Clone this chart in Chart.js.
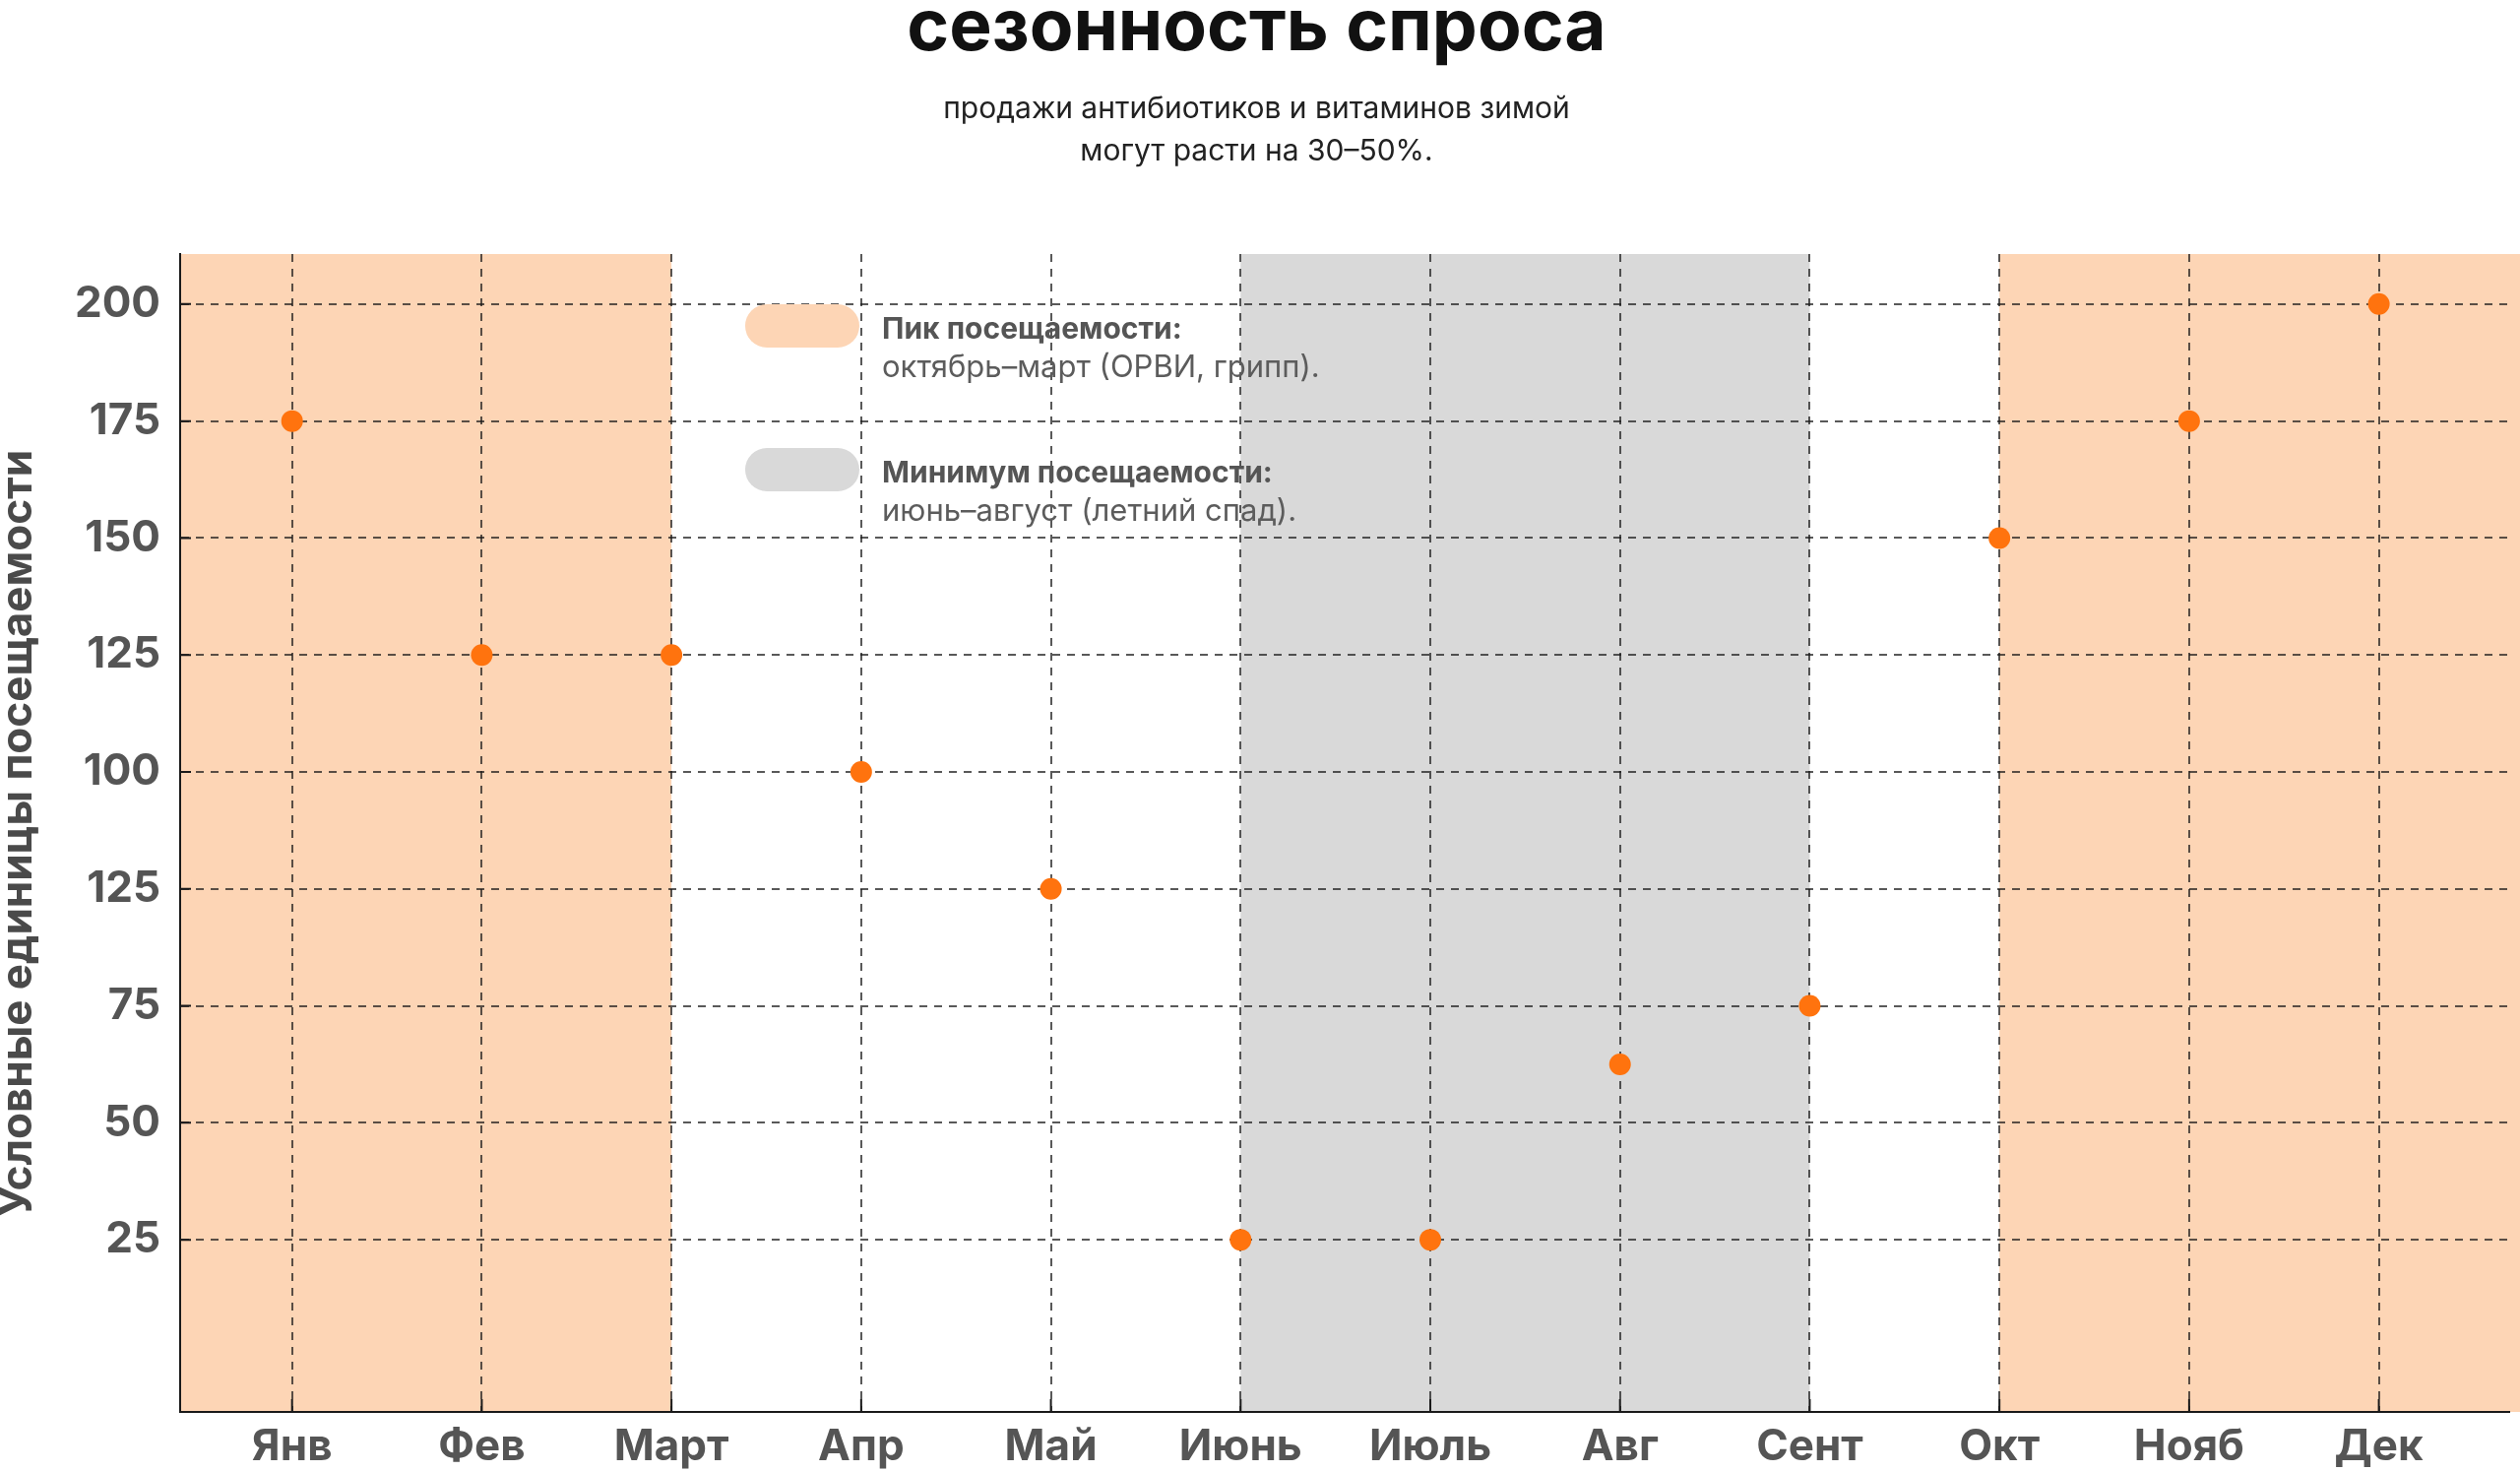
<!DOCTYPE html>
<html lang="ru">
<head>
  <meta charset="UTF-8">
  <meta name="viewport" content="width=device-width, initial-scale=1.0">
  <title>Сезонность спроса</title>
  <script src="https://cdn.jsdelivr.net/npm/chart.js"></script>
  <style>
    html, body {
      margin: 0;
      padding: 0;
      background: #fff;
    }

    .chart-container {
      position: relative;
      width: 2560px;
      height: 1495px;
    }
  </style>
</head>
<body>
  <div class="chart-container">
    <canvas id="seasonChart"></canvas>
  </div>
  <script>
    // Months on the x axis
    const MONTHS = ['Янв', 'Фев', 'Март', 'Апр', 'Май', 'Июнь', 'Июль', 'Авг', 'Сент', 'Окт', 'Нояб', 'Дек'];

    // Visits per month, in axis units (gridline 0..200 step 25)
    const VISITS = [175, 125, 125, 100, 75, 0, 0, 37.5, 50, 150, 175, 200];

    // Gridline values and the labels printed next to them (the lower ones are printed as in the source)
    const Y_TICKS = [0, 25, 50, 75, 100, 125, 150, 175, 200];
    const Y_TICK_LABELS = ['25', '50', '75', '125', '100', '125', '150', '175', '200'];

    // Shaded seasons, as ranges of month index
    const PEAK_RANGES = [[-1, 2], [9, 12]];
    const LOW_RANGES = [[5, 8]];

    const TITLE = 'сезонность спроса';
    const SUBTITLE = ['продажи антибиотиков и витаминов зимой', 'могут расти на 30–50%.'];
    const Y_TITLE = 'Условные единицы посещаемости';

    const LEGEND_TITLES = ['Пик посещаемости:', 'Минимум посещаемости:'];
    const LEGEND_TEXTS = ['октябрь–март (ОРВИ, грипп).', 'июнь–август (летний спад).'];

    const PEAK_COLOR = '#FDD5B5';
    const LOW_COLOR = '#D9D9D9';
    const POINT_COLOR = '#FF730E';
    const GRID_COLOR = 'rgba(25, 25, 25, 0.72)';
    const AXIS_COLOR = '#1a1a1a';
    const FONT = 'Inter, "Noto Sans", sans-serif';

    // Season bands behind the grid
    const seasonBands = {
      id: 'seasonBands',
      beforeDraw(chart) {
        const { ctx, chartArea: a, scales: { x } } = chart;
        const paint = (ranges, color) => ranges.forEach(([from, to]) => {
          const x0 = Math.max(a.left, x.getPixelForValue(from));
          const x1 = Math.min(chart.width, x.getPixelForValue(to));
          ctx.fillStyle = color;
          ctx.fillRect(x0, a.top, x1 - x0, a.bottom - a.top);
        });
        ctx.save();
        paint(PEAK_RANGES, PEAK_COLOR);
        paint(LOW_RANGES, LOW_COLOR);
        ctx.restore();
      }
    };

    // Short solid ticks pointing into the plot, plus the legend
    const overlay = {
      id: 'overlay',
      beforeDatasetsDraw(chart) {
        const { ctx, chartArea: a, scales: { x, y } } = chart;
        ctx.save();
        ctx.strokeStyle = AXIS_COLOR;
        ctx.lineWidth = 2;
        ctx.beginPath();
        x.ticks.forEach(t => {
          const px = x.getPixelForValue(t.value);
          ctx.moveTo(px, a.bottom);
          ctx.lineTo(px, a.bottom - 13);
        });
        y.ticks.forEach(t => {
          const py = y.getPixelForValue(t.value);
          ctx.moveTo(a.left, py);
          ctx.lineTo(a.left + 11, py);
        });
        ctx.stroke();

        // legend block
        const colors = [PEAK_COLOR, LOW_COLOR];
        LEGEND_TITLES.forEach((title, i) => {
          const top = a.top + 51 + i * 146;
          ctx.fillStyle = colors[i];
          ctx.beginPath();
          ctx.roundRect(a.left + 574, top, 116, 44, 22);
          ctx.fill();

          ctx.textBaseline = 'middle';
          ctx.textAlign = 'left';
          ctx.fillStyle = '#555';
          ctx.font = 'bold 30px ' + FONT;
          ctx.fillText(title, a.left + 713, top + 26);
          ctx.fillStyle = '#5c5c5c';
          ctx.font = '31px ' + FONT;
          ctx.fillText(LEGEND_TEXTS[i], a.left + 713, top + 65);
        });
        ctx.restore();
      }
    };

    function drawChart() {
      const points = MONTHS.map((m, i) => ({ x: i, y: VISITS[i] }));

      const gridLines = {
        color: GRID_COLOR,
        lineWidth: 2,
        drawTicks: false
      };
      const border = {
        display: true,
        color: AXIS_COLOR,
        width: 2,
        dash: [8, 7]
      };
      const tickFont = { family: FONT, size: 44, weight: 'bold', lineHeight: 1 };

      new Chart(document.getElementById('seasonChart'), {
        type: 'scatter',
        data: {
          datasets: [{
            label: 'Посещаемость',
            data: points,
            backgroundColor: POINT_COLOR,
            borderWidth: 0,
            pointRadius: 11,
            pointHoverRadius: 11
          }]
        },
        options: {
          responsive: true,
          maintainAspectRatio: false,
          animation: false,
          layout: {
            padding: { left: 0, right: 7, top: 0, bottom: 0 }
          },
          plugins: {
            legend: { display: false },
            tooltip: { enabled: false },
            title: {
              display: true,
              text: TITLE,
              color: '#111',
              font: { family: FONT, size: 73, weight: 'bold', lineHeight: 1 },
              padding: { top: -7, bottom: 24 }
            },
            subtitle: {
              display: true,
              text: SUBTITLE,
              color: '#222',
              font: { family: FONT, size: 30, weight: 'normal', lineHeight: 1.42 },
              padding: { top: 0, bottom: 82.8 }
            }
          },
          scales: {
            x: {
              type: 'linear',
              min: -0.59,
              max: 11.687,
              afterBuildTicks: scale => {
                scale.ticks = MONTHS.map((m, i) => ({ value: i }));
              },
              afterFit: scale => {
                scale.height = 61;
              },
              ticks: {
                autoSkip: false,
                maxRotation: 0,
                padding: 14,
                color: '#555',
                font: tickFont,
                callback: value => MONTHS[value]
              },
              grid: gridLines,
              border: border
            },
            y: {
              type: 'linear',
              min: -36.8,
              max: 210.7,
              afterBuildTicks: scale => {
                scale.ticks = Y_TICKS.map(v => ({ value: v }));
              },
              afterFit: scale => {
                scale.width = 183;
              },
              ticks: {
                padding: 20,
                color: '#555',
                font: tickFont,
                callback: value => Y_TICK_LABELS[Y_TICKS.indexOf(value)]
              },
              title: {
                display: true,
                text: Y_TITLE,
                color: '#4a4a4a',
                font: { family: FONT, size: 44, weight: 'bold', lineHeight: 1 },
                padding: { top: -3, bottom: 0 }
              },
              grid: gridLines,
              border: border
            }
          }
        },
        plugins: [seasonBands, overlay]
      });
    }

    Promise.all([
      document.fonts.load('bold 42px Inter'),
      document.fonts.load('31px Inter')
    ]).then(drawChart, drawChart);
  </script>
</body>
</html>
